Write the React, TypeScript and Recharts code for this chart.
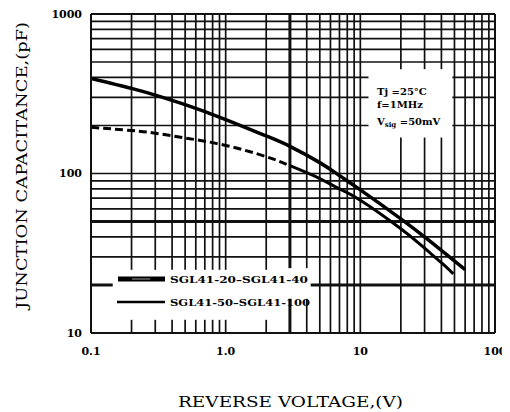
import React from "react";
import { LineChart, Line, XAxis, YAxis, ReferenceLine } from "recharts";

// Reverse voltage (V) sample points
const voltageHigh = [0.1, 0.2, 0.3, 0.5, 1, 2, 3, 5, 7, 10, 20, 30, 40, 60];
const capHigh = [395, 342, 310, 270, 218, 172, 148, 117, 97, 79, 52, 40, 33, 25];

const voltageLow = [0.1, 0.2, 0.3, 0.5, 1, 2, 3, 5, 7, 10, 20, 30, 40, 49];
const capLow = [195, 186, 179, 167, 150, 127.5, 112, 93, 80, 68, 45, 34, 27.6, 23.5];

const xTicks = [0.1, 1, 10, 100];
const yTicks = [10, 100, 1000];

const xGrid = [0.2, 0.3, 0.4, 0.5, 0.6, 0.7, 0.8, 0.9, 1, 2, 4, 5, 6, 7, 8, 9, 10, 20, 30, 40, 50, 60, 70, 80, 90];
const yGrid = [30, 40, 60, 70, 80, 90, 100, 200, 300, 400, 500, 600, 700, 800, 900];
const xThick = [3];
const yThick = [50, 20];

const seriesNames = ["SGL41-20\u2013SGL41-40", "SGL41-50\u2013SGL41-100"];
const conditions = ["Tj", "=25\u00B0C", "f=1MHz", "V", "sig", " =50mV"];

const highData = voltageHigh.map((v, i) => ({ v, c: capHigh[i] }));
const lowData = voltageLow.map((v, i) => ({ v, c: capLow[i] }));

// dashed for the low-voltage part of the lower curve, then solid
const lowDash = Array(17).fill("8 4").join(" ") + " 3000 0";

// blank regions (data units) where the grid is interrupted
const legendX: [number, number] = [0.145, 4.28];
const annoX: [number, number] = [11.5, 48.2];
const annoY: [number, number] = [168, 451];

function vGaps(x: number): [number, number][] {
  const g: [number, number][] = [];
  if (x > legendX[0] && x < legendX[1]) g.push(x >= 2.9 ? [16.4, 25.5] : [12.1, 24.9]);
  if (x > annoX[0] && x < annoX[1]) g.push(annoY);
  return g;
}
function hGaps(y: number): [number, number][] {
  const g: [number, number][] = [];
  if (y === 20) g.push(legendX);
  if (y > annoY[0] && y < annoY[1]) g.push(annoX);
  return g;
}
function split(lo: number, hi: number, gaps: [number, number][]): [number, number][] {
  let segs: [number, number][] = [[lo, hi]];
  gaps.forEach(([a, b]) => {
    const out: [number, number][] = [];
    segs.forEach(([s, e]) => {
      if (b <= s || a >= e) out.push([s, e]);
      else {
        if (a > s) out.push([s, a]);
        if (b < e) out.push([b, e]);
      }
    });
    segs = out;
  });
  return segs;
}

const INK = "#111";
const FONT = "'DejaVu Serif', serif";

function gridLines() {
  const els: React.ReactNode[] = [];
  const addV = (x: number, w: number) =>
    split(10, 1000, vGaps(x)).forEach(([a, b], i) =>
      els.push(
        <ReferenceLine key={`v${x}-${i}`} segment={[{ x, y: a }, { x, y: b }]} stroke={INK} strokeWidth={w} />
      )
    );
  const addH = (y: number, w: number) =>
    split(0.1, 100, hGaps(y)).forEach(([a, b], i) =>
      els.push(
        <ReferenceLine key={`h${y}-${i}`} segment={[{ x: a, y }, { x: b, y }]} stroke={INK} strokeWidth={w} />
      )
    );
  xGrid.forEach((x) => addV(x, 1.7));
  yGrid.forEach((y) => addH(y, 1.7));
  xThick.forEach((x) => addV(x, 3));
  yThick.forEach((y) => addH(y, 3));
  return els;
}

const fmtX = (v: number) => (v === 0.1 ? "0.1" : v === 1 ? "1.0" : String(v));

export default function App() {
  return (
    <div style={{ position: "relative", width: 502, height: 404, background: "#fff" }}>
      <LineChart
        width={502}
        height={404}
        margin={{ top: 6, right: 15, bottom: 49, left: 23 }}
      >
        <XAxis
          type="number"
          dataKey="v"
          scale="log"
          domain={[0.1, 100]}
          ticks={xTicks}
          tickFormatter={fmtX}
          allowDataOverflow
          height={30}
          tickLine={false}
          tickMargin={8}
          axisLine={{ stroke: INK, strokeWidth: 2 }}
          tick={{ fill: "#000", fontSize: 11, fontWeight: "bold", fontFamily: FONT }}
        />
        <YAxis
          type="number"
          dataKey="c"
          scale="log"
          domain={[10, 1000]}
          ticks={yTicks}
          allowDataOverflow
          width={60}
          tickLine={false}
          tickMargin={3}
          axisLine={{ stroke: INK, strokeWidth: 2 }}
          tick={{ fill: "#000", fontSize: 11, fontWeight: "bold", fontFamily: FONT }}
        />
        {gridLines()}
        <ReferenceLine y={1000} stroke={INK} strokeWidth={2} />
        <ReferenceLine x={100} stroke={INK} strokeWidth={2} />
        <Line
          data={highData}
          dataKey="c"
          type="natural"
          stroke="#000"
          strokeWidth={3.5}
          dot={false}
          isAnimationActive={false}
        />
        <Line
          data={lowData}
          dataKey="c"
          type="natural"
          stroke="#000"
          strokeWidth={3}
          strokeDasharray={lowDash}
          dot={false}
          isAnimationActive={false}
        />
      </LineChart>
      <svg
        width={502}
        height={404}
        style={{ position: "absolute", left: 0, top: 0, pointerEvents: "none" }}
      >
        {/* legend */}
        <line x1={110} y1={271} x2={157} y2={271} stroke="#000" strokeWidth={5} />
        <line x1={124} y1={271} x2={142} y2={271} stroke="#999" strokeWidth={1} />
        <text x={162} y={271} dominantBaseline="central" fontFamily={FONT} fontWeight="bold" fontSize={10} textLength={138} lengthAdjust="spacingAndGlyphs">
          {seriesNames[0]}
        </text>
        <line x1={109} y1={294} x2={157} y2={294} stroke="#000" strokeWidth={2.5} />
        <text x={162} y={294} dominantBaseline="central" fontFamily={FONT} fontWeight="bold" fontSize={10} textLength={140} lengthAdjust="spacingAndGlyphs">
          {seriesNames[1]}
        </text>
        {/* conditions */}
        <text x={369} y={87} fontFamily={FONT} fontWeight="bold" fontSize={10}>
          {conditions[0]} {conditions[1]}
        </text>
        <text x={369} y={99.5} fontFamily={FONT} fontWeight="bold" fontSize={10}>
          {conditions[2]}
        </text>
        <text x={369} y={117} fontFamily={FONT} fontWeight="bold" fontSize={10}>
          {conditions[3]}
          <tspan fontSize={7} dy={2}>{conditions[4]}</tspan>
          <tspan dy={-2}>{conditions[5]}</tspan>
        </text>
        {/* axis titles */}
        <text
          x={282.5}
          y={399}
          textAnchor="middle"
          fontFamily={FONT}
          fontSize={15}
          textLength={225}
          lengthAdjust="spacingAndGlyphs"
        >
          REVERSE VOLTAGE,(V)
        </text>
        <text
          x={0}
          y={0}
          transform="translate(14,157.5) rotate(-90)"
          textAnchor="middle"
          dominantBaseline="central"
          fontFamily={FONT}
          fontSize={15}
          textLength={287}
          lengthAdjust="spacingAndGlyphs"
        >
          JUNCTION CAPACITANCE,(pF)
        </text>
      </svg>
    </div>
  );
}
